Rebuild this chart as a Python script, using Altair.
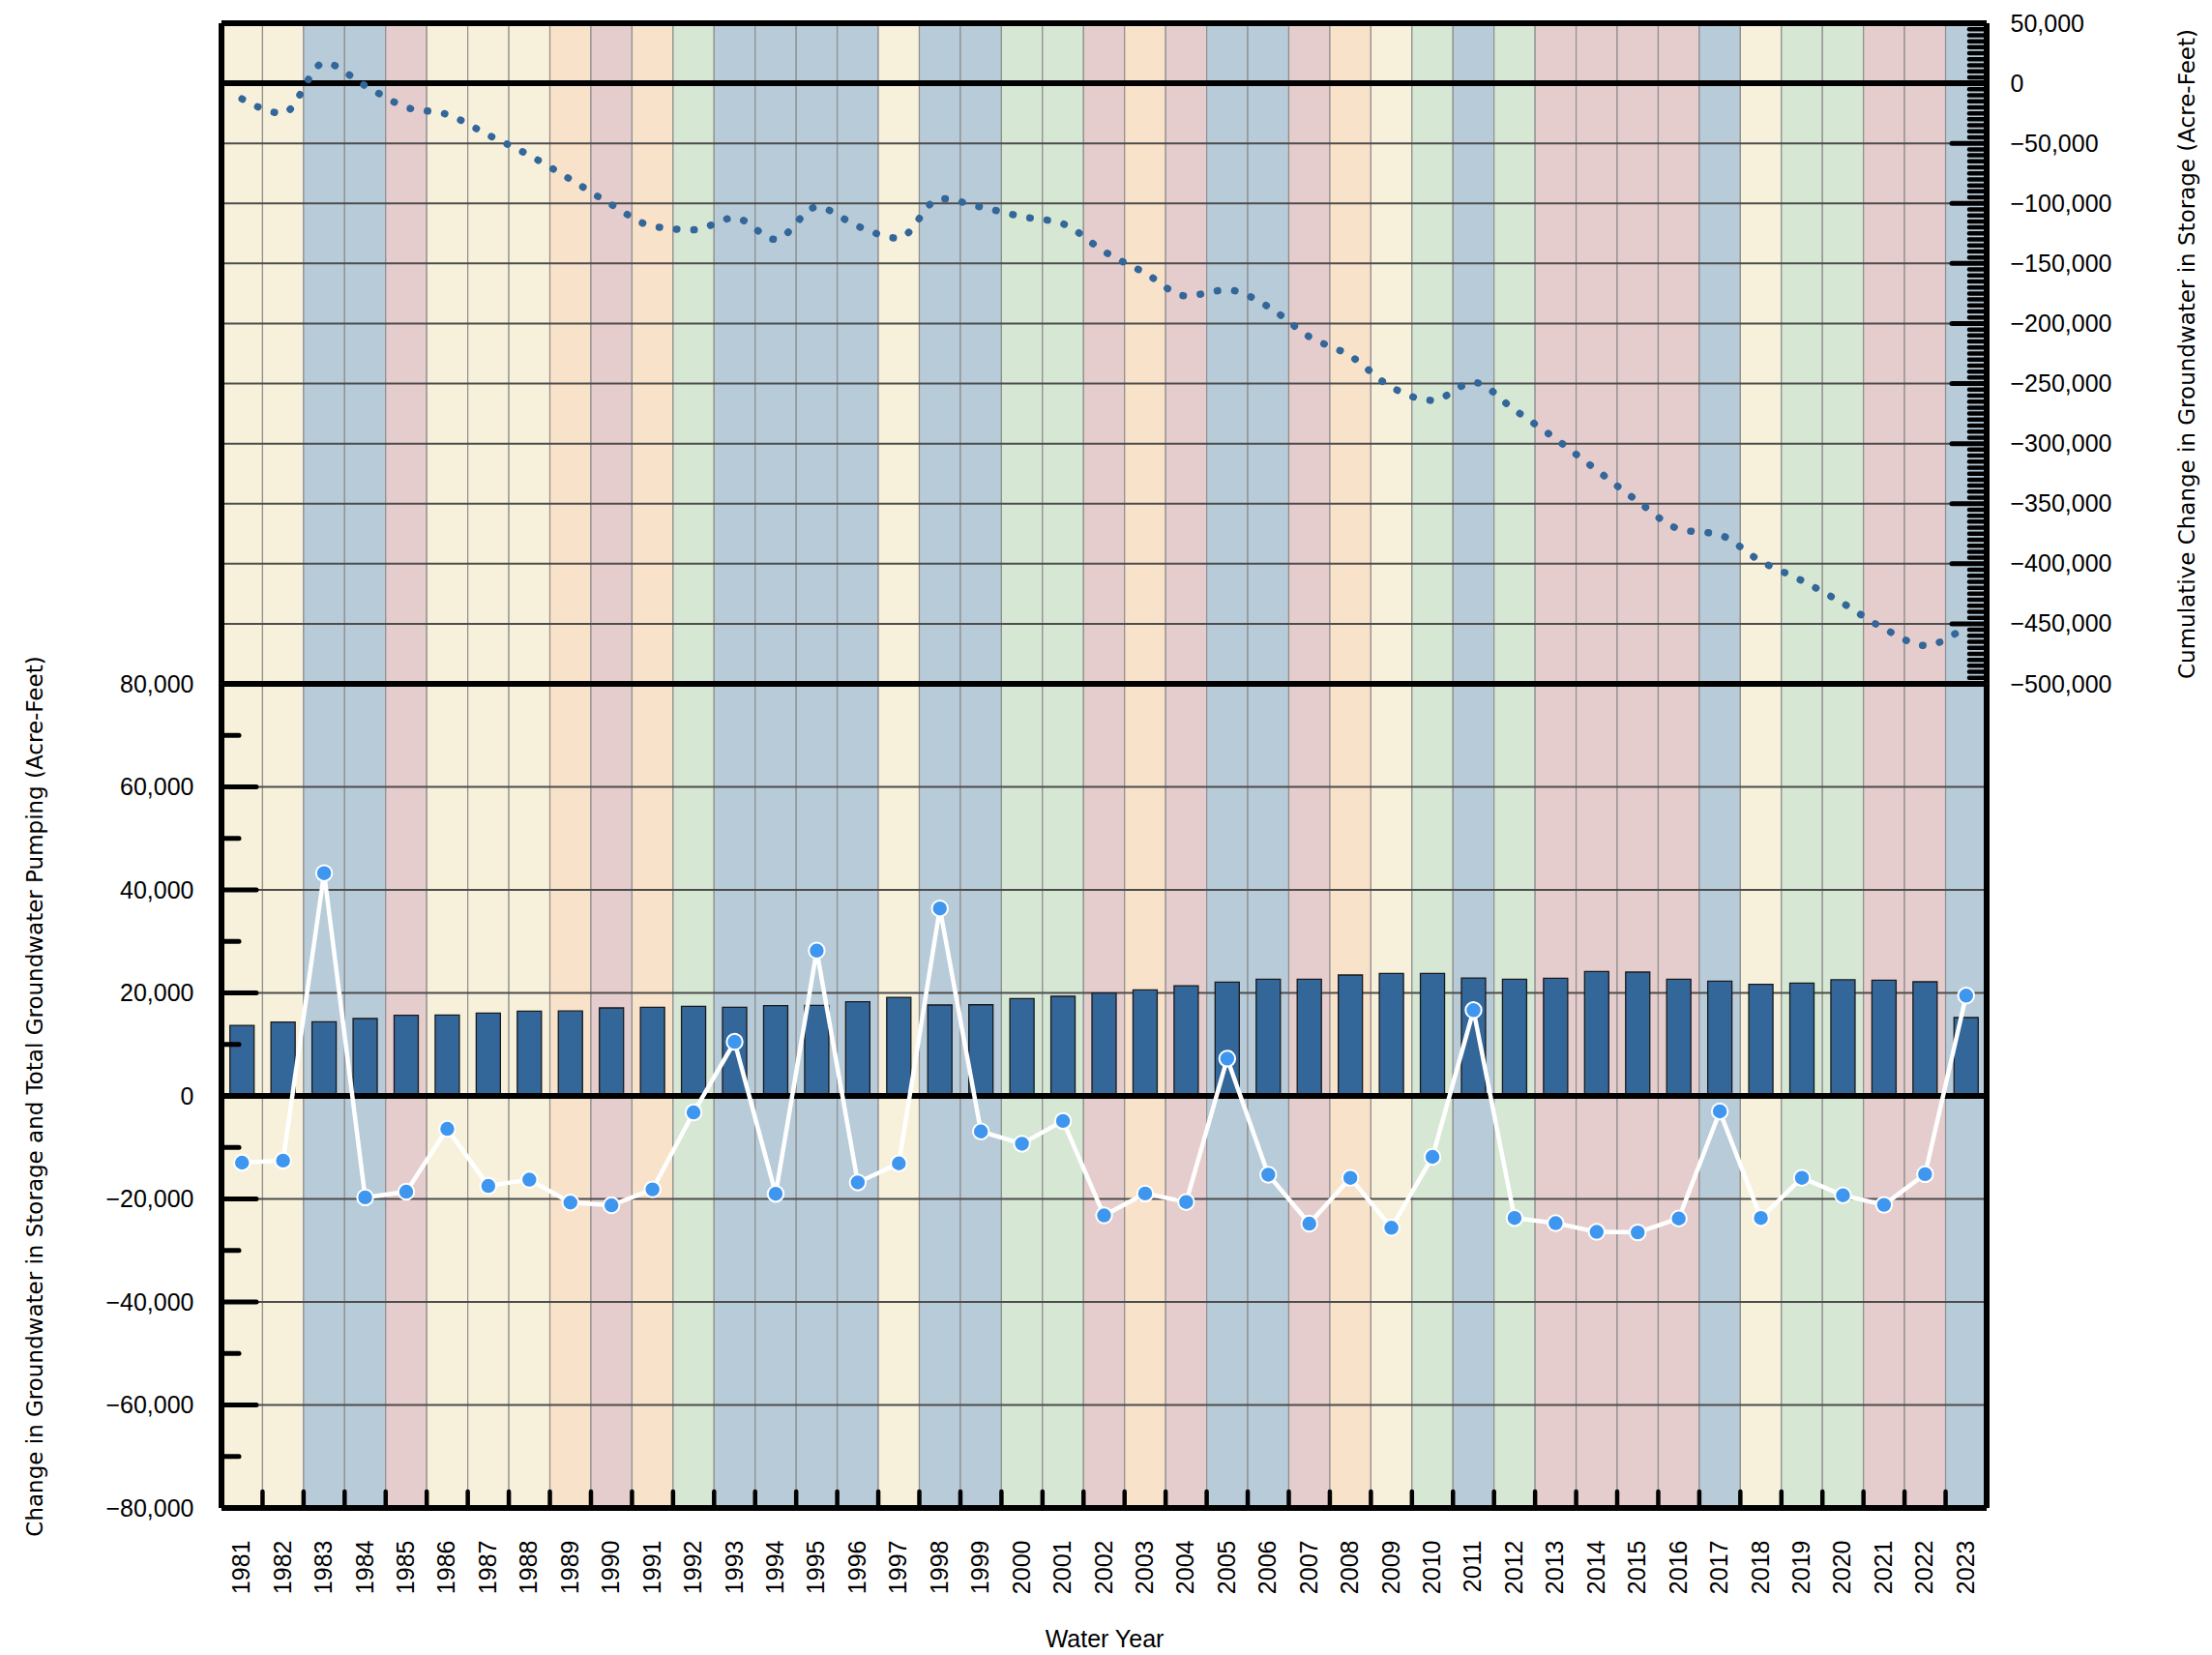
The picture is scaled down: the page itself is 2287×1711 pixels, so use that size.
import altair as alt
import pandas as pd

# ---------------- data ----------------
years = list(range(1981, 2024))

year_types = [
    "BN", "BN", "W", "W", "C", "BN", "BN", "BN", "D", "C", "D", "AN",
    "W", "W", "W", "W", "BN", "W", "W", "AN", "AN", "C", "D", "C",
    "W", "W", "C", "D", "BN", "AN", "W", "AN", "C", "C", "C", "C",
    "W", "BN", "AN", "AN", "C", "C", "W",
]

pumping = [
    13700, 14330, 14400, 15020, 15650, 15700, 16090, 16460, 16500, 17090, 17210,
    17400, 17200, 17530, 17590, 18280, 19150, 17650, 17700, 18900, 19340, 19970,
    20600, 21400, 22100, 22660, 22660, 23470, 23780, 23780, 22900, 22660, 22850,
    24160, 24040, 22660, 22280, 21660, 21910, 22540, 22470, 22160, 15210,
]

annual_change = [
    -12960, -12560, 43250, -19700, -18600, -6400, -17470, -16260, -20700, -21230,
    -18140, -3200, 10500, -19000, 28200, -16800, -13100, 36400, -6900, -9280,
    -4860, -23200, -18950, -20600, 7250, -15300, -24800, -15900, -25600, -11830,
    16650, -23700, -24700, -26400, -26500, -23800, -3000, -23700, -15900, -19300,
    -21150, -15190, 19470,
]

cumulative_change = [
    -13000, -25000, 17000, -2000, -20000, -26000, -43000, -60000, -80000, -101000,
    -119000, -122000, -112000, -130000, -103000, -119000, -129000, -96000, -103000,
    -111000, -117000, -140000, -158000, -177000, -172000, -186000, -211000, -227000,
    -253000, -264000, -249000, -272000, -296000, -322000, -348000, -371000, -376000,
    -398000, -414000, -433000, -454000, -468000, -452000,
]

type_order = ["W", "AN", "BN", "D", "C"]
type_colors = ["#b8cbd9", "#d6e7d4", "#f7f1db", "#f9e2ca", "#e6cdcd"]

top_ticks = list(range(-500000, 50001, 50000))
bottom_ticks = list(range(-80000, 80001, 20000))

# ---------------- tables ----------------
df = pd.DataFrame({
    "year": [str(y) for y in years],
    "type": year_types,
    "pumping": pumping,
    "change": annual_change,
    "cum": cumulative_change,
})

W = 1825
H_TOP = 683
H_BOT = 852
FRAME = 6

right_major = pd.DataFrame({"v": [v for v in range(-450000, 50000, 50000)]})
right_minor = pd.DataFrame({"v": [v for v in range(-495000, 50000, 5000) if v % 50000 != 0]})
top_grid = pd.DataFrame({"v": top_ticks})
top_edges = pd.DataFrame({"v": [top_ticks[0], top_ticks[-1], 0]})

left_major = pd.DataFrame({"v": [-60000, -40000, -20000, 20000, 40000, 60000]})
left_minor = pd.DataFrame({"v": [-70000, -50000, -30000, -10000, 10000, 30000, 50000, 70000]})
bot_grid = pd.DataFrame({"v": bottom_ticks})
bot_edges = pd.DataFrame({"v": [bottom_ticks[0], bottom_ticks[-1], 0]})
xtick_df = pd.DataFrame({"year": [str(y) for y in years[1:]]})
side_df = pd.DataFrame({"k": ["edge"]})

LABEL_FONT = "Liberation Sans"
TITLE_FONT = "DejaVu Sans"

x_scale = alt.Scale(domain=[str(y) for y in years], paddingInner=0, paddingOuter=0)

# ---------------- top panel ----------------
top_y_scale = alt.Scale(domain=[-500000, 50000], nice=False, zero=False)
TY = "Cumulative Change in Groundwater in Storage  (Acre-Feet)"
top_axis = alt.Axis(
    orient="right", values=top_ticks, format=",.0f", grid=False, domain=False,
    ticks=False, tickSize=0, labelFont=LABEL_FONT, labelFontSize=25,
    labelColor="black", labelPadding=24, labelOverlap=False,
    title=TY,
    titleFont=TITLE_FONT, titleFontSize=23, titleFontWeight="normal",
    titleColor="black", titleAngle=270, titleX=207, titleY=341.5,
    titleAlign="center", titleBaseline="middle",
)

def ty(field):
    return alt.Y(field, scale=top_y_scale, axis=top_axis, title=TY)

def tx(field="year:O", **kw):
    return alt.X(field, scale=x_scale, axis=None, **kw)

bands_top = alt.Chart(df).mark_rect(stroke="#8f8f8f", strokeWidth=1.2).encode(
    x=tx(),
    y=alt.value(0), y2=alt.value(H_TOP),
    color=alt.Color("type:N", scale=alt.Scale(domain=type_order, range=type_colors), legend=None),
)
grid_top = alt.Chart(top_grid).mark_rule(color="#4d4d4d", strokeWidth=2).encode(y=ty("v:Q"))
rmaj = alt.Chart(right_major).mark_rule(color="black", strokeWidth=5, strokeCap="round").encode(
    y=ty("v:Q"), x=alt.value(W - 36), x2=alt.value(W))
rmin = alt.Chart(right_minor).mark_rule(color="black", strokeWidth=4.5, strokeCap="round").encode(
    y=ty("v:Q"), x=alt.value(W - 18), x2=alt.value(W))
edges_top = alt.Chart(top_edges).mark_rule(color="black", strokeWidth=FRAME).encode(y=ty("v:Q"))
left_top = alt.Chart(side_df).mark_rule(color="black", strokeWidth=FRAME).encode(
    x=alt.value(0), y=alt.value(0), y2=alt.value(H_TOP))
right_top = alt.Chart(side_df).mark_rule(color="black", strokeWidth=FRAME).encode(
    x=alt.value(W), y=alt.value(0), y2=alt.value(H_TOP))
cum_line = alt.Chart(df).mark_line(
    interpolate="monotone", color="#336699", strokeWidth=7.5,
    strokeDash=[0.5, 17.5], strokeCap="round",
).encode(x=tx(), y=ty("cum:Q"))

top = alt.layer(
    bands_top, grid_top, rmin, rmaj, edges_top, left_top, right_top, cum_line
).properties(width=W, height=H_TOP)

# ---------------- bottom panel ----------------
bot_y_scale = alt.Scale(domain=[-80000, 80000], nice=False, zero=False)
BY = "Change in Groundwater in Storage and Total Groundwater Pumping (Acre-Feet)"
bot_axis = alt.Axis(
    orient="left", values=bottom_ticks, format=",.0f", grid=False, domain=False,
    ticks=False, tickSize=0, labelFont=LABEL_FONT, labelFontSize=25,
    labelColor="black", labelPadding=29, labelOverlap=False,
    title=BY, titleFont=TITLE_FONT, titleFontSize=23, titleFontWeight="normal",
    titleColor="black", titleAngle=270, titleX=-193, titleY=426,
    titleAlign="center", titleBaseline="middle",
)
x_axis = alt.Axis(
    labelAngle=270, labelFont="Liberation Sans Narrow, Arial Narrow, Liberation Sans",
    labelFontSize=25, labelColor="black", labelPadding=33, ticks=False, tickSize=0,
    domain=False, grid=False, labelOverlap=False,
    title="Water Year", titleFont=LABEL_FONT, titleFontSize=25, titleFontWeight="normal",
    titleColor="black", titleX=912.5, titleY=135, titleBaseline="middle", titleAlign="center",
)

def by(field):
    return alt.Y(field, scale=bot_y_scale, axis=bot_axis, title=BY)

def bx(field="year:O", **kw):
    return alt.X(field, scale=x_scale, axis=x_axis, title="Water Year", **kw)

bands_bot = alt.Chart(df).mark_rect(stroke="#8f8f8f", strokeWidth=1.2).encode(
    x=bx(),
    y=alt.value(0), y2=alt.value(H_BOT),
    color=alt.Color("type:N", scale=alt.Scale(domain=type_order, range=type_colors), legend=None),
)
grid_bot = alt.Chart(bot_grid).mark_rule(color="#4d4d4d", strokeWidth=2).encode(y=by("v:Q"))
bars = alt.Chart(df).mark_bar(size=25, color="#336699", stroke="#1a1a1a", strokeWidth=1.3).encode(
    x=bx(), y=by("pumping:Q"))
lmaj = alt.Chart(left_major).mark_rule(color="black", strokeWidth=5, strokeCap="round").encode(
    y=by("v:Q"), x=alt.value(0), x2=alt.value(36))
lmin = alt.Chart(left_minor).mark_rule(color="black", strokeWidth=5, strokeCap="round").encode(
    y=by("v:Q"), x=alt.value(0), x2=alt.value(18))
xticks = alt.Chart(xtick_df).mark_rule(color="black", strokeWidth=4.5, strokeCap="round").encode(
    x=bx(bandPosition=0), y=alt.value(H_BOT - 17), y2=alt.value(H_BOT))
edges_bot = alt.Chart(bot_edges).mark_rule(color="black", strokeWidth=FRAME).encode(y=by("v:Q"))
left_bot = alt.Chart(side_df).mark_rule(color="black", strokeWidth=FRAME).encode(
    x=alt.value(0), y=alt.value(0), y2=alt.value(H_BOT))
right_bot = alt.Chart(side_df).mark_rule(color="black", strokeWidth=FRAME).encode(
    x=alt.value(W), y=alt.value(0), y2=alt.value(H_BOT))
chg_line = alt.Chart(df).mark_line(color="white", strokeWidth=4.5).encode(x=bx(), y=by("change:Q"))
chg_pts = alt.Chart(df).mark_circle(
    size=270, color="#3f96ef", opacity=1, stroke="white", strokeWidth=2
).encode(x=bx(), y=by("change:Q"))

bottom = alt.layer(
    bands_bot, grid_bot, bars, lmin, lmaj, xticks, edges_bot, left_bot, right_bot,
    chg_line, chg_pts
).properties(width=W, height=H_BOT)

chart = alt.vconcat(top, bottom, spacing=0, bounds="flush").properties(
    padding={"left": 16, "top": 3, "right": 5, "bottom": 5}
).configure_view(stroke=None).configure(background="white")

chart.save("out.html", embed_options={"renderer": "svg", "actions": False})
